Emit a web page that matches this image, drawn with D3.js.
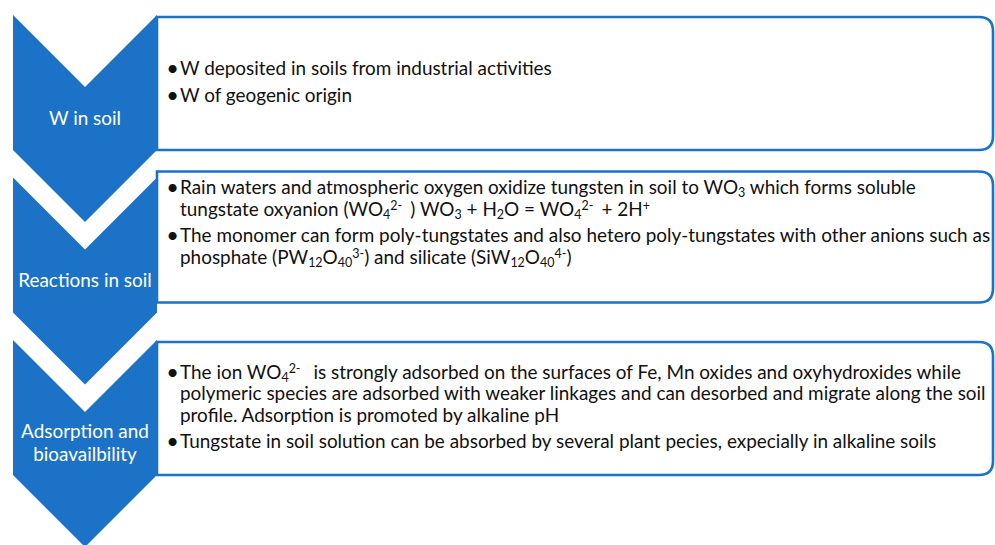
<!DOCTYPE html>
<html>
<head>
<meta charset="utf-8">
<script src="https://cdn.jsdelivr.net/npm/d3@7"></script>
<style>
  body { margin: 0; background: #fff; }
  svg { display: block; }
</style>
</head>
<body>
<div id="chart"></div>
<script>
// stage labels (chevrons), one entry per line
var stageLabels = [
  ["W in soil"],
  ["Reactions in soil"],
  ["Adsorption and", "bioavailbility"]
];

// bullet texts for each stage; each bullet is a list of wrapped lines
// _{..} = subscript, ^{..} = superscript
var soilBullets = [
  ["W deposited in soils from industrial activities"],
  ["W of geogenic origin"]
];
var reactionBullets = [
  ["Rain waters and atmospheric oxygen oxidize tungsten in soil to WO_{3} which forms soluble",
   "tungstate oxyanion (WO_{4}^{2- } ) WO_{3} + H_{2}O = WO_{4}^{2- } + 2H^{+}"],
  ["The monomer can form poly-tungstates and also hetero poly-tungstates with other anions such as",
   "phosphate (PW_{12}O_{40}^{3-}) and silicate (SiW_{12}O_{40}^{4-})"],
  [""]
];
var adsorptionBullets = [
  ["The ion WO_{4}^{2- }  is strongly adsorbed on the surfaces of Fe, Mn oxides and oxyhydroxides while",
   "polymeric species are adsorbed with weaker linkages and can desorbed and migrate along the soil",
   "profile. Adsorption is promoted by alkaline pH"],
  ["Tungstate in soil solution can be absorbed by several plant pecies, expecially in alkaline soils"]
];
var stageBullets = [soilBullets, reactionBullets, adsorptionBullets];

var w = 995, h = 545;
var blue = "#1b72c6";
var font = "Lato, 'Open Sans', sans-serif";

var svg = d3.select("#chart").append("svg")
  .attr("width", w)
  .attr("height", h);

// fit the font size so one reference line has the width it has in the picture
var probe = svg.append("text")
  .attr("font-family", font)
  .attr("font-size", 100)
  .text(soilBullets[0][0]);
var fs = 100 * 372 / probe.node().getComputedTextLength();
probe.remove();

var lineH = 21.5, paraGap = 5;

var chevX = d3.scaleLinear().domain([0, 1]).range([13, 157]);
var rowY = d3.scaleLinear().domain([0, stageLabels.length - 1]).range([15, 340]);
var bodyH = 135;
var notch = (chevX(1) - chevX(0)) / 2;
// box top/bottom offsets relative to each chevron top
var boxOff = [[2, 135], [-6, 125], [2, 135]];
var boxLeft = chevX(1), boxRight = 993, rad = 14;

var rows = svg.selectAll(".stage")
  .data(stageLabels)
  .enter()
  .append("g")
    .attr("class", "stage");

// boxes (right corners rounded)
rows.append("path")
  .attr("d", function(d, i) {
    var t = rowY(i) + boxOff[i][0], b = rowY(i) + boxOff[i][1];
    return "M " + boxLeft + " " + t
      + " L " + (boxRight - rad) + " " + t
      + " Q " + boxRight + " " + t + " " + boxRight + " " + (t + rad)
      + " L " + boxRight + " " + (b - rad)
      + " Q " + boxRight + " " + b + " " + (boxRight - rad) + " " + b
      + " L " + boxLeft + " " + b + " z";
  })
  .attr("fill", "#fff")
  .attr("stroke", blue)
  .attr("stroke-width", 2.6);

// chevrons
rows.append("path")
  .attr("d", function(d, i) {
    var t = rowY(i), x0 = chevX(0), x1 = chevX(1), xm = (x0 + x1) / 2;
    return "M " + x0 + " " + t
      + " L " + xm + " " + (t + notch)
      + " L " + x1 + " " + t
      + " L " + x1 + " " + (t + bodyH)
      + " L " + xm + " " + (t + bodyH + notch)
      + " L " + x0 + " " + (t + bodyH)
      + " z";
  })
  .attr("fill", blue);

// chevron labels
rows.each(function(d, i) {
  var cy = rowY(i) + notch + (bodyH - notch) / 2;
  var lh = 23;
  var first = cy - (d.length - 1) * lh / 2 + fs * 0.33;
  d3.select(this).selectAll(".label")
    .data(d)
    .enter()
    .append("text")
      .attr("class", "label")
      .attr("x", (chevX(0) + chevX(1)) / 2)
      .attr("y", function(s, k) { return first + k * lh; })
      .attr("text-anchor", "middle")
      .attr("font-family", font)
      .attr("font-size", fs)
      .attr("fill", "#fff")
      .text(function(s) { return s; });
});

function parse(str) {
  var parts = str.split(/(_\{[^}]*\}|\^\{[^}]*\})/);
  return parts.filter(function(p) { return p.length; }).map(function(p) {
    if (p[0] === "_" && p[1] === "{") return {t: p.slice(2, -1), type: "sub"};
    if (p[0] === "^" && p[1] === "{") return {t: p.slice(2, -1), type: "sup"};
    return {t: p, type: "n"};
  });
}

var shift = {n: 0, sub: 3, sup: -6};

// bullet texts
rows.each(function(d, i) {
  var paras = stageBullets[i];
  var nLines = d3.sum(paras, function(p) { return p.length; });
  var blockH = (nLines - 1) * lineH + (paras.length - 1) * paraGap;
  var t = rowY(i) + boxOff[i][0], b = rowY(i) + boxOff[i][1];
  var y = (t + b) / 2 - blockH / 2 + 5;
  var g = d3.select(this);
  paras.forEach(function(p) {
    p.forEach(function(line, k) {
      if (k === 0 && line !== "") {
        g.append("text")
          .attr("x", 172.5)
          .attr("y", y + 1)
          .attr("text-anchor", "middle")
          .attr("font-family", font)
          .attr("font-size", fs * 1.15)
          .attr("fill", "#111")
          .text("\u2022");
      }
      var txt = g.append("text")
        .attr("x", 180)
        .attr("y", y)
        .attr("font-family", font)
        .attr("font-size", fs)
        .attr("fill", "#111")
        .attr("xml:space", "preserve")
        .style("white-space", "pre");
      var cur = 0;
      parse(line).forEach(function(s) {
        txt.append("tspan")
          .attr("dy", shift[s.type] - cur)
          .attr("font-size", s.type === "n" ? fs : fs * 0.66)
          .text(s.t);
        cur = shift[s.type];
      });
      y += lineH;
    });
    y += paraGap;
  });
});
</script>
</body>
</html>
